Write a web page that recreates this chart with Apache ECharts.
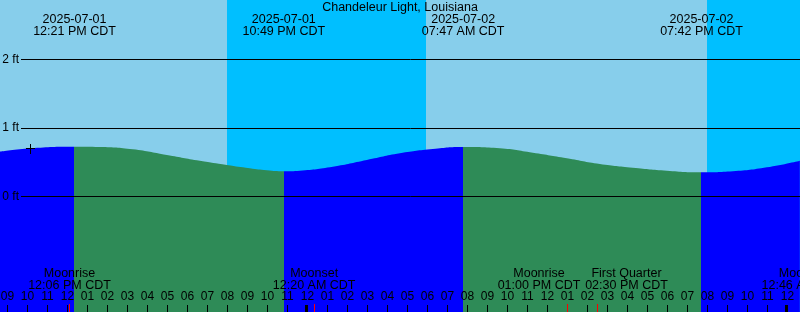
<!DOCTYPE html>
<html><head><meta charset="utf-8">
<script src="https://cdn.jsdelivr.net/npm/echarts@6/dist/echarts.min.js"></script>
<style>html,body{margin:0;padding:0;background:#87CEEB}#c{width:800px;height:312px}</style>
</head><body><div id="c"></div>
<script>
// ---------- data ----------
const stationName = 'Chandeleur Light, Louisiana';
// tide curve samples (month-day hh:mm, CDT) and heights in feet
const tideTimes = ['07-01 08:37','07-01 10:08','07-01 12:21','07-01 13:37','07-01 15:16','07-01 16:58',
  '07-01 18:37','07-01 19:58','07-01 21:07','07-01 21:58','07-01 22:49','07-01 23:37',
  '07-02 01:16','07-02 02:58','07-02 04:37','07-02 06:16','07-02 07:47','07-02 09:37',
  '07-02 11:16','07-02 12:58','07-02 14:37','07-02 16:16','07-02 17:58','07-02 19:42',
  '07-02 21:16','07-02 22:58','07-03 00:37'];
const tideFeet = [0.654,0.704,0.727,0.723,0.689,0.606,
  0.521,0.460,0.412,0.382,0.368,0.377,
  0.435,0.533,0.631,0.693,0.723,0.704,
  0.639,0.558,0.474,0.420,0.377,0.353,
  0.368,0.426,0.523];
// high / low tides
const extremeTimes = ['07-01 12:21','07-01 22:49','07-02 07:47','07-02 19:42'];
const extremeDates = ['2025-07-01','2025-07-01','2025-07-02','2025-07-02'];
const extremeLabels = ['12:21 PM CDT','10:49 PM CDT','07:47 AM CDT','07:42 PM CDT'];
const extremeKinds = ['high','low','high','low'];
// night (sunset -> sunrise)
const nightStarts = ['07-01 19:59','07-02 19:59'];
const nightEnds = ['07-02 05:56','07-03 05:56'];
// moon events
const moonTimes = ['07-01 12:06','07-02 00:20','07-02 13:00','07-02 14:30','07-03 00:46'];
const moonNames = ['Moonrise','Moonset','Moonrise','First Quarter','Moonset'];
const moonLabels = ['12:06 PM CDT','12:20 AM CDT','01:00 PM CDT','02:30 PM CDT','12:46 AM CDT'];
const midnights = ['07-02 00:00','07-03 00:00'];
const markTime = ['07-01 10:09'];
const markFeet = [0.70];
// axis ticks
const hourLabels = ['12','01','02','03','04','05','06','07','08','09','10','11'];
const footTicks = [0,1,2];
const footUnit = 'ft';
const axisStartHour = 8, axisEndHour = 49;

// ---------- helpers / styles ----------
function hrs(s){const [md,hm]=s.split(' ');const d=+md.split('-')[1];const [H,M]=hm.split(':').map(Number);return (d-1)*24+H+M/60;}
const FONT = '"Liberation Sans", Arial, sans-serif';
const FS = 12, FS_TXT = 12.5;
const PX_PER_FT = 68.5, ZERO_Y = 196.5, H = 312;
const labelNudge = {2:-28.5, 3:29};
const C = {day:'#87CEEB', night:'#00BFFF', flood:'#0000FF', ebb:'#2E8B57', text:'#000'};

const pts = tideTimes.map((t,i)=>[hrs(t), tideFeet[i]]);
// rising (flood) before a high, falling (ebb) before a low
const pieces = [];
const exH = extremeTimes.map(hrs);
for (let i=0;i<=exH.length;i++){
  const kind = i<exH.length ? extremeKinds[i] : (extremeKinds[i-1]==='high'?'low':'high');
  const piece = {color: kind==='high'?C.flood:C.ebb};
  piece.gte = i>0 ? exH[i-1] : -1e9;
  piece.lt = i<exH.length ? exH[i] : 1e9;
  pieces.push(piece);
}

const txt = (text,x,y)=>({type:'text', x, y, style:{text, align:'center', verticalAlign:'middle', fontSize:FS_TXT, fontFamily:FONT, fill:C.text}});

const option = {
  animation:false,
  backgroundColor:C.day,
  title:{text:stationName, left:'center', top:1, padding:0, textStyle:{fontSize:FS_TXT, fontWeight:'normal', fontFamily:FONT, color:C.text}},
  grid:[
    {left:-12.5, width:(axisEndHour-axisStartHour)*20, top:0, bottom:0, containLabel:false, outerBoundsMode:'none'},
    {left:21, right:0, top:ZERO_Y-3*PX_PER_FT, bottom:H-ZERO_Y, containLabel:false, outerBoundsMode:'none'}
  ],
  visualMap:{show:false, type:'piecewise', dimension:0, seriesIndex:1, pieces},
  xAxis:[
    {type:'value', gridIndex:0, min:axisStartHour, max:axisEndHour, interval:1, z:6,
     axisLine:{show:false, onZero:false}, splitLine:{show:false},
     axisTick:{show:true, inside:true, length:7, lineStyle:{color:'#000', width:1}},
     axisLabel:{show:true, inside:true, margin:9, interval:0, hideOverlap:false, color:C.text, fontSize:FS, fontFamily:FONT,
       formatter:v=>hourLabels[((Math.round(v)%12)+12)%12]}},
    {type:'value', gridIndex:1, min:0, max:1, show:false}
  ],
  yAxis:[
    {type:'value', gridIndex:0, min:-(H-ZERO_Y)/PX_PER_FT, max:ZERO_Y/PX_PER_FT, show:false},
    {type:'value', gridIndex:1, min:0, max:3, interval:1, z:5,
     axisLine:{show:false}, axisTick:{show:false},
     splitLine:{show:true, lineStyle:{color:'#000', width:1}},
     axisLabel:{margin:2, color:C.text, fontSize:FS, fontFamily:FONT, formatter:v=>footTicks.includes(v)?v+' '+footUnit:''}}
  ],
  series:[
    {type:'custom', xAxisIndex:0, yAxisIndex:0, z:1, silent:true,
     data: nightStarts.map((s,i)=>[hrs(s), hrs(nightEnds[i])]),
     encode:{x:[0,1]},
     renderItem:(p,api)=>{const x1=Math.round(api.coord([api.value(0),0])[0]), x2=Math.round(api.coord([api.value(1),0])[0]);
       return {type:'rect', shape:{x:x1, y:p.coordSys.y, width:x2-x1, height:p.coordSys.height}, style:{fill:C.night}};}},
    {type:'line', xAxisIndex:0, yAxisIndex:0, data:pts, smooth:0.5, symbol:'none', silent:true, z:2,
     lineStyle:{width:0, opacity:0}, areaStyle:{opacity:1, origin:'start'}},
    // plus mark
    {type:'custom', xAxisIndex:0, yAxisIndex:0, z:7, silent:true,
     data: markTime.map((t,i)=>[hrs(t), markFeet[i]]),
     renderItem:(p,api)=>{const c=api.coord([api.value(0),api.value(1)]);const x=Math.floor(c[0]), y=Math.floor(c[1]);
       return {type:'group', children:[
         {type:'rect', shape:{x:x-4, y:y, width:9, height:1}, style:{fill:'#000'}},
         {type:'rect', shape:{x:x, y:y-4, width:1, height:10}, style:{fill:'#000'}}]};}},
    // midnight + moon event ticks
    {type:'custom', xAxisIndex:0, yAxisIndex:0, z:7, silent:true,
     data: [...midnights.map(t=>[hrs(t),0]), ...moonTimes.map(t=>[hrs(t),1])],
     renderItem:(p,api)=>{const x=Math.floor(api.coord([api.value(0),0])[0]); const moon=api.value(1)===1;
       const bottom=p.coordSys.y+p.coordSys.height;
       return moon ? {type:'rect', shape:{x:x, y:bottom-8, width:1, height:8}, style:{fill:'#FF0000'}}
                   : {type:'rect', shape:{x:x-2, y:bottom-7, width:3, height:7}, style:{fill:'#000'}};}},
    // tide extreme labels
    {type:'custom', xAxisIndex:0, yAxisIndex:0, z:8, silent:true,
     data: extremeTimes.map((t,i)=>[hrs(t), i]),
     renderItem:(p,api)=>{const i=api.value(1); const x=api.coord([api.value(0),0])[0];
       return {type:'group', children:[txt(extremeDates[i],x,19.5), txt(extremeLabels[i],x,31.5)]};}},
    // moon labels
    {type:'custom', xAxisIndex:0, yAxisIndex:0, z:8, silent:true,
     data: moonTimes.map((t,i)=>[hrs(t), i]),
     renderItem:(p,api)=>{const i=api.value(1); const x=api.coord([api.value(0),0])[0]+(labelNudge[i]||0);
       return {type:'group', children:[txt(moonNames[i],x,274), txt(moonLabels[i],x,286)]};}}
  ]
};
const chart = echarts.init(document.getElementById('c'), null, {renderer:'canvas'});
chart.setOption(option);
</script></body></html>
